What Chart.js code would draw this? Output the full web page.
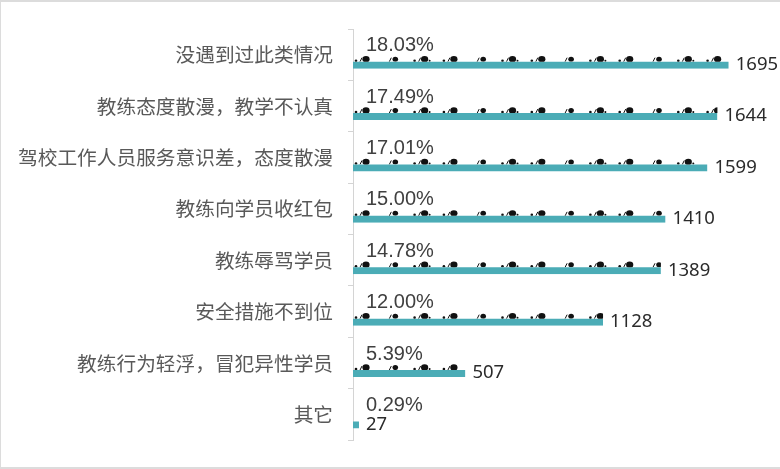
<!DOCTYPE html>
<html>
<head>
<meta charset="utf-8">
<script src="https://cdn.jsdelivr.net/npm/chart.js@4.4.1/dist/chart.umd.min.js"></script>
<style>
  html, body { margin: 0; padding: 0; background: #fff; }
  #wrap {
    width: 779px; height: 465px;
    border-top: 2px solid #dcdcdc; border-left: 1px solid #dcdcdc; border-bottom: 2px solid #dcdcdc;
    position: relative;
  }
</style>
</head>
<body>
<div id="wrap"><canvas id="myChart" width="779" height="465"></canvas></div>
<script>
// data
const categories = [
    '没遇到过此类情况',
    '教练态度散漫，教学不认真',
    '驾校工作人员服务意识差，态度散漫',
    '教练向学员收红包',
    '教练辱骂学员',
    '安全措施不到位',
    '教练行为轻浮，冒犯异性学员',
    '其它'
];
const counts = [1695, 1644, 1599, 1410, 1389, 1128, 507, 27];
const percents = [18.03, 17.49, 17.01, 15.00, 14.78, 12.00, 5.39, 0.29];

const teal = '#4bacb6';

// small black "snail" marks along the top of each bar, then the labels
const barDecor = {
    id: 'barDecor',
    afterDatasetsDraw(chart) {
        const ctx = chart.ctx;
        const pctBars = chart.getDatasetMeta(0).data;
        const bars = chart.getDatasetMeta(1).data;
        ctx.save();
        bars.forEach((bar, i) => {
            const left = bar.base;
            const right = bar.x;
            const bottom = bar.y;       // top half of the bar holds the marks
            ctx.save();
            ctx.beginPath();
            ctx.rect(left, bottom - 9, right - left, 9);
            ctx.clip();
            ctx.fillStyle = '#111';
            ctx.strokeStyle = '#111';
            ctx.lineWidth = 1;
            let k = 0;
            for (let sx = left + 12; sx < right + 6; sx += 29.3) {
                const v = k % 3;
                if (v !== 1) {
                    ctx.beginPath();
                    ctx.arc(sx - 9, bottom - 1, 1.3, 0, Math.PI * 2);
                    ctx.fill();
                }
                ctx.beginPath();
                ctx.moveTo(sx - 5, bottom);
                ctx.lineTo(sx - 3, bottom - 4);
                ctx.stroke();
                ctx.beginPath();
                ctx.ellipse(sx + 1, bottom - 2.5, v === 1 ? 2.8 : 3.6, v === 1 ? 2.5 : 3.2, 0, 0, Math.PI * 2);
                ctx.fill();
                if (v === 2) {
                    ctx.beginPath();
                    ctx.arc(sx + 6, bottom - 1, 1, 0, Math.PI * 2);
                    ctx.fill();
                }
                k++;
            }
            ctx.restore();

            // value at the end of the bar
            ctx.fillStyle = '#2b2b2b';
            ctx.font = '18.5px "Noto Sans", sans-serif';
            ctx.textAlign = 'left';
            ctx.textBaseline = 'middle';
            ctx.fillText(String(counts[i]), right + 7, bar.y + 3);

            // percentage above the bar
            const p = pctBars[i];
            ctx.fillStyle = '#404040';
            ctx.font = '20px "Liberation Sans", Arial, sans-serif';
            ctx.fillText(percents[i].toFixed(2) + '%', p.base + 13, p.y - 2);
        });
        ctx.restore();
    }
};

const data = {
    labels: categories,
    datasets: [{
        label: 'percent',
        data: percents,
        xAxisID: 'x2',
        backgroundColor: 'rgba(0,0,0,0)',
        categoryPercentage: 0.543,
        barPercentage: 1
    }, {
        label: 'count',
        data: counts,
        xAxisID: 'x',
        backgroundColor: 'rgba(0,0,0,0)',
        borderColor: teal,
        borderWidth: { top: 0, right: 0, bottom: 7, left: 0 },
        borderSkipped: false,
        categoryPercentage: 0.543,
        barPercentage: 1
    }]
};

const config = {
    type: 'bar',
    data: data,
    plugins: [barDecor],
    options: {
        indexAxis: 'y',
        responsive: false,
        animation: false,
        layout: { padding: { top: 27, bottom: 23, right: 28, left: 0 } },
        plugins: {
            legend: { display: false },
            tooltip: { enabled: false }
        },
        scales: {
            x: { display: false, min: 0, max: 1800 },
            x2: { display: false, min: 0, max: 100 },
            y: {
                afterFit: (scale) => { scale.width = 352; },
                border: { color: '#d4d4d4', width: 1 },
                grid: { drawOnChartArea: false, tickLength: 5, color: '#d4d4d4', offset: true },
                ticks: {
                    padding: 15,
                    color: '#595959',
                    font: { family: '"Noto Sans CJK SC", sans-serif', size: 19.7 }
                }
            }
        }
    }
};

const myChart = new Chart(document.getElementById('myChart'), config);
</script>
</body>
</html>
